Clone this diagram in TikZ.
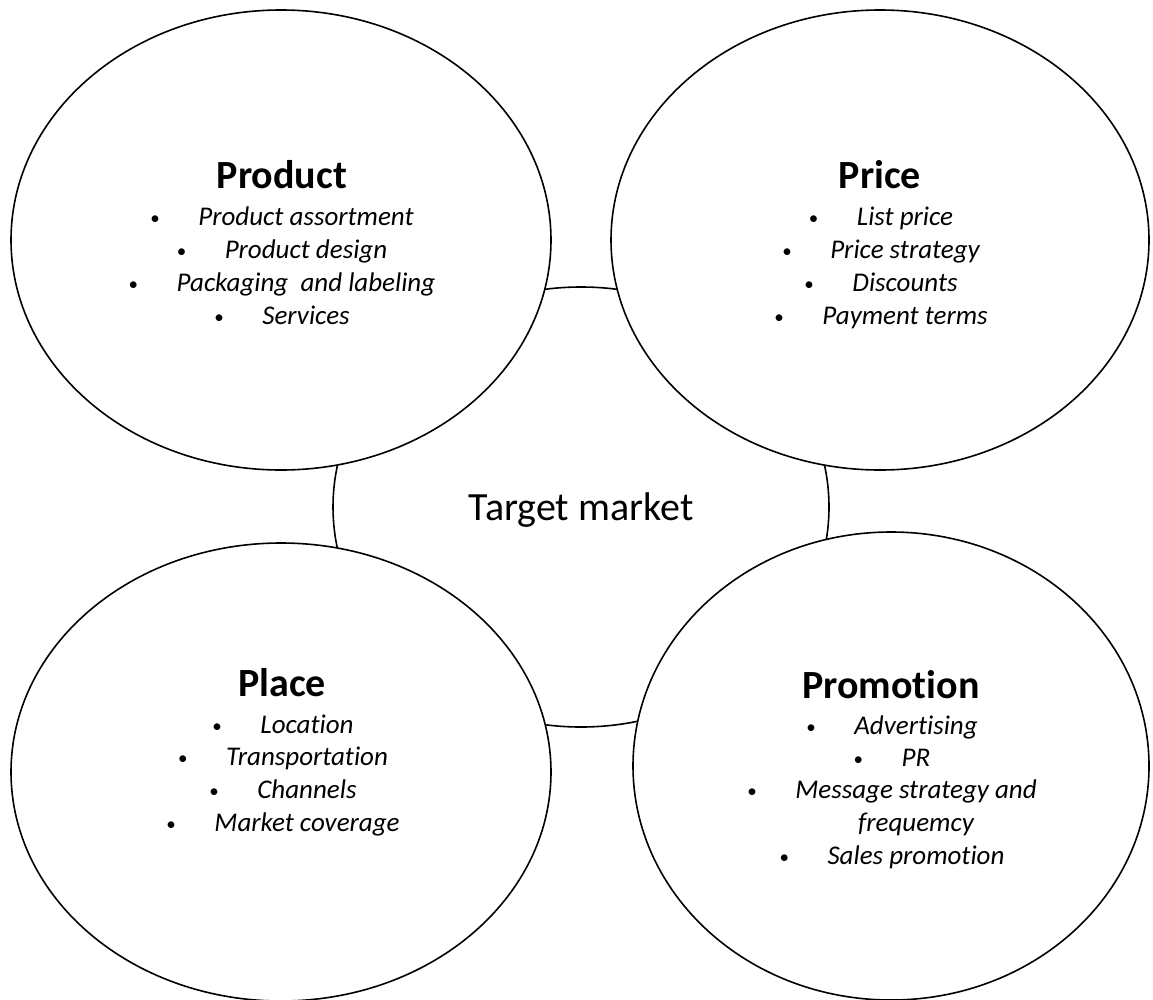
\documentclass[tikz,border=0pt]{standalone}
\usepackage{fontspec}
\setmainfont{Carlito}[Ligatures=NoCommon]
\usepackage{tikz}
\usetikzlibrary{shapes.geometric}

\newcommand{\dotline}[1]{\makebox[48pt][l]{\raisebox{1pt}{\fontsize{19}{19}\selectfont\upshape\textbullet}}#1}

\tikzset{
  mix/.style={draw=black, line width=1.6pt, fill=white, ellipse, inner sep=0pt},
  head/.style={anchor=base, inner sep=0pt, font=\fontsize{40}{48}\selectfont\bfseries},
  entry/.style={anchor=base, inner sep=0pt, font=\fontsize{27}{33}\selectfont\itshape},
}

\begin{document}
\begin{tikzpicture}[x=1pt,y=-1pt]
\fill[white] (0,0) rectangle (1153,999);
\useasboundingbox (0,0) rectangle (1153,999);

% target market in the middle
\node[mix, minimum width=496pt, minimum height=440pt] (target) at (581,507) {};
\node[anchor=base, inner sep=0pt, font=\fontsize{40}{48}\selectfont] (targettext) at (581,520) {Target market};

% the four P's
\node[mix, minimum width=540pt, minimum height=460pt] (product) at (281,240) {};
\node[mix, minimum width=538pt, minimum height=460pt] (price) at (880,240) {};
\node[mix, minimum width=540pt, minimum height=458pt] (place) at (281,772) {};
\node[mix, minimum width=516pt, minimum height=468pt] (promotion) at (891,766) {};

\node[head] (producthead) at (282,188) {Product};
\foreach \y/\txt [count=\i] in {225/Product assortment,258/Product design,291/Packaging\space\space and labeling,324/Services}
  \node[entry] (product\i) at (282,\y) {\dotline{\txt}};

\node[head] (pricehead) at (880,188) {Price};
\foreach \y/\txt [count=\i] in {225/List price,258/Price strategy,291/Discounts,324/Payment terms}
  \node[entry] (price\i) at (881,\y) {\dotline{\txt}};

\node[head] (placehead) at (282,696) {Place};
\foreach \y/\txt [count=\i] in {733/Location,765/Transportation,798/Channels,831/Market coverage}
  \node[entry] (place\i) at (283,\y) {\dotline{\txt}};

\node[head] (promotionhead) at (891,698) {Promotion};
\node[entry] (promotion1) at (892,734) {\dotline{Advertising}};
\node[entry] (promotion2) at (892,766) {\dotline{PR}};
\node[entry] (promotion3) at (892,798) {\dotline{\begin{tabular}[t]{@{}c@{}}Message strategy and\\frequemcy\end{tabular}}};
\node[entry] (promotion4) at (892,864) {\dotline{Sales promotion}};
\end{tikzpicture}
\end{document}
